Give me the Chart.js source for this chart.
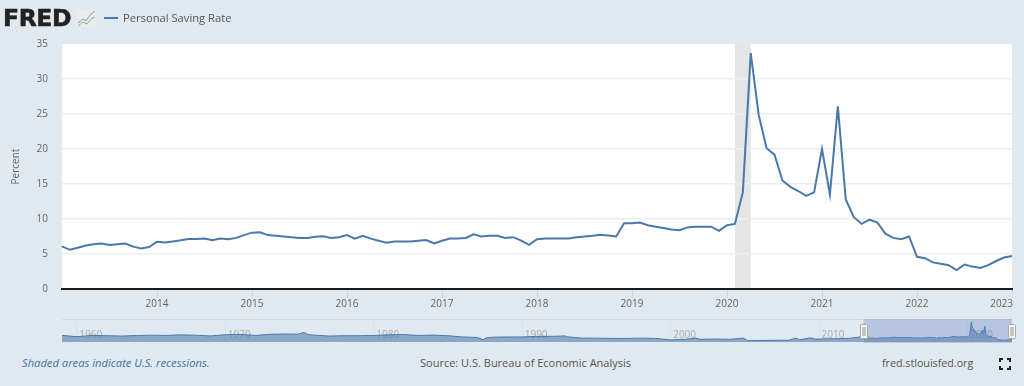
<!DOCTYPE html>
<html>
<head>
<meta charset="utf-8">
<title>Personal Saving Rate</title>
<script src="https://cdn.jsdelivr.net/npm/chart.js@4"></script>
<style>
  html, body { margin: 0; padding: 0; }
  body { width: 1024px; height: 386px; background: #e1e9f0; position: relative; overflow: hidden; font-family: "Open Sans", sans-serif; color: #555; }
  canvas { position: absolute; left: 0; }
  #chart { top: 0; }
  #navigator { top: 316px; }
  .txt { position: absolute; white-space: nowrap; font-size: 11.2px; line-height: 14px; }
  #logo { left: 3px; top: 3px; font: bold 23.5px/30px "DejaVu Sans", sans-serif; color: #222; letter-spacing: -0.4px; -webkit-text-stroke: 0.5px #222; }
  #icon { position: absolute; left: 77px; top: 10px; }
  #legendLine { position: absolute; left: 104px; top: 17px; width: 14px; height: 2px; background: #4a78ab; }
</style>
</head>
<body>
<canvas id="chart" width="1024" height="316"></canvas>
<canvas id="navigator" width="1024" height="30"></canvas>

<div class="txt" id="logo">FRED</div>
<svg id="icon" width="19" height="17">
  <rect width="19" height="17" fill="#e9ecea"/>
  <polyline points="1,13 6,9 9,11 13,5 18,1" fill="none" stroke="#7f9cc0" stroke-width="1"/>
  <polyline points="1,16 6,12 10,14 14,9 18,7" fill="none" stroke="#8fb27a" stroke-width="1"/>
</svg>
<div id="legendLine"></div>
<div class="txt" style="left:123px;top:11px">Personal Saving Rate</div>

<div class="txt" style="left:22px;top:356px;color:#4572a7;font-style:italic">Shaded areas indicate U.S. recessions.</div>
<div class="txt" style="left:420px;top:356px;font-size:11px">Source: U.S. Bureau of Economic Analysis</div>
<div class="txt" style="left:882px;top:356px;font-size:10.7px">fred.stlouisfed.org</div>
<svg style="position:absolute;left:999px;top:358px" width="12" height="12" fill="none" stroke="#222" stroke-width="2">
  <path d="M1 4V1H4M8 1H11V4M11 8V11H8M4 11H1V8"/>
</svg>

<script>
// values, one list per year
const y2013 = [6.1, 5.6, 5.9, 6.2, 6.4, 6.5, 6.3, 6.4, 6.5, 6.05, 5.8, 6.0];
const y2014 = [6.75, 6.65, 6.8, 6.95, 7.15, 7.15, 7.2, 6.95, 7.2, 7.1, 7.3, 7.7];
const y2015 = [8.05, 8.1, 7.7, 7.6, 7.5, 7.4, 7.3, 7.3, 7.45, 7.55, 7.3, 7.4];
const y2016 = [7.7, 7.2, 7.6, 7.2, 6.9, 6.6, 6.8, 6.8, 6.8, 6.9, 7.0, 6.5];
const y2017 = [6.9, 7.2, 7.2, 7.3, 7.8, 7.5, 7.6, 7.6, 7.3, 7.4, 6.9, 6.3];
const y2018 = [7.1, 7.2, 7.2, 7.2, 7.2, 7.4, 7.5, 7.6, 7.75, 7.65, 7.5, 9.4];
const y2019 = [9.4, 9.5, 9.1, 8.9, 8.7, 8.5, 8.4, 8.8, 8.9, 8.9, 8.9, 8.3];
const y2020 = [9.1, 9.3, 13.8, 33.7, 24.9, 20.1, 19.2, 15.5, 14.6, 14.0, 13.3, 13.8];
const y2021 = [20.0, 13.5, 26.1, 12.8, 10.3, 9.3, 9.9, 9.5, 7.9, 7.3, 7.1, 7.5];
const y2022 = [4.6, 4.4, 3.8, 3.6, 3.4, 2.7, 3.5, 3.2, 3.0, 3.4, 4.0, 4.5];
const y2023 = [4.7];
const savingRate = [].concat(y2013, y2014, y2015, y2016, y2017, y2018, y2019, y2020, y2021, y2022, y2023);

const monthNames = ['01', '02', '03', '04', '05', '06', '07', '08', '09', '10', '11', '12'];
const years = [2013, 2014, 2015, 2016, 2017, 2018, 2019, 2020, 2021, 2022, 2023];
const months = [];
years.forEach(yr => monthNames.forEach(m => months.push(yr + '-' + m)));
months.length = savingRate.length;

const recession = ['2020-02', '2020-04'];
const yTicks = [0, 5, 10, 15, 20, 25, 30, 35];

// navigator: the long history, rough readings before 2013
const navYears = [1959, 1960, 1961, 1962, 1963, 1964, 1965, 1966, 1967, 1968, 1969, 1970, 1971, 1972, 1973, 1974, 1974.9, 1975.3, 1975.6, 1976,
  1977, 1978, 1979, 1980, 1981, 1982, 1983, 1984, 1985, 1986, 1987, 1987.35, 1987.6, 1988, 1989, 1990, 1991, 1992, 1992.9, 1993, 1994, 1995, 1996, 1997, 1998, 1999,
  2000, 2001, 2001.7, 2002, 2003, 2004, 2004.9, 2005.2, 2006, 2007, 2008, 2008.4, 2008.7, 2009, 2009.4, 2009.7, 2010, 2011, 2012, 2012.9];
const navValues = [11.1, 8.9, 11, 10.6, 10, 10.8, 11.5, 11, 12, 11.4, 10.2, 12.2, 12.9, 11, 13, 13.5, 13.2, 16, 12.5, 11.5,
  10, 10.5, 10.5, 11, 12, 12.5, 11, 11.6, 10.5, 8.5, 7.5, 4, 7, 8, 8.5, 8.5, 9.5, 9.5, 10.2, 8.8, 6.5, 6.5, 6, 6, 6.5, 6,
  3.5, 4.5, 6.5, 4.5, 5, 4.5, 6.5, 2.5, 2.5, 2.8, 3, 6.5, 4, 5, 7, 5, 5, 5.5, 6, 9];
const navLabels = [1960, 1970, 1980, 1990, 2000, 2010, 2020];
const navWindow = [2013, 2023];

const navData = navYears.map((yr, i) => ({ x: yr, y: navValues[i] }));
savingRate.forEach((v, i) => navData.push({ x: 2013 + i / 12, y: v }));

Chart.defaults.font.family = '"Open Sans", sans-serif';
Chart.defaults.animation = false;

// white plot background and the recession band
const plotBack = {
  id: 'plotBack',
  beforeDraw(c) {
    const a = c.chartArea, x = c.scales.x;
    const ctx = c.ctx;
    ctx.save();
    ctx.fillStyle = '#fff';
    ctx.fillRect(a.left, a.top, a.right - a.left, a.bottom - a.top);
    const x0 = x.getPixelForValue(months.indexOf(recession[0]));
    const x1 = x.getPixelForValue(months.indexOf(recession[1]));
    ctx.fillStyle = '#e5e5e5';
    ctx.fillRect(x0, a.top, x1 - x0, a.bottom - a.top);
    ctx.restore();
  }
};

new Chart(document.querySelector('#chart').getContext('2d'), {
  type: 'line',
  plugins: [plotBack],
  data: {
    labels: months,
    datasets: [{
      label: 'Personal Saving Rate',
      data: savingRate,
      borderColor: '#4a78ab',
      borderWidth: 2,
      pointRadius: 0,
      tension: 0
    }]
  },
  options: {
    responsive: false,
    layout: { padding: { top: 44, right: 12, left: 0, bottom: 0 } },
    plugins: { legend: { display: false }, tooltip: { enabled: false } },
    scales: {
      x: {
        // the padded last label must not push the plot edge in
        afterFit: s => { s.height = 27; s.paddingRight = 0; },
        afterBuildTicks: s => { s.ticks = s.ticks.filter(t => months[t.value].endsWith('-01') && t.value > 0); },
        border: { color: '#1a1a1a', width: 2 },
        grid: { drawOnChartArea: false, color: '#ccd6eb', tickLength: 9 },
        ticks: {
          autoSkip: false,
          maxRotation: 0,
          color: '#666',
          font: { size: 10 },
          padding: 0,
          // last label sits flush with the plot edge, padded so the centring pulls it left
          callback: v => months[v].slice(0, 4) + (v === months.length - 1 ? '        ' : '')
        }
      },
      y: {
        min: 0,
        max: 35,
        afterFit: s => { s.width = 62; },
        afterBuildTicks: s => { s.ticks = yTicks.map(v => ({ value: v })); },
        border: { display: false },
        grid: { color: c => (c.tick.value === 35 ? 'transparent' : '#ededed'), lineWidth: 1.5, drawTicks: false },
        ticks: { color: '#666', font: { size: 10 }, padding: 14 },
        title: { display: true, text: 'Percent', color: '#666', font: { size: 10 }, padding: { top: 10, bottom: 0 } }
      }
    }
  }
});

// selected range and its two handles
const navMask = {
  id: 'navMask',
  beforeDraw(c) {
    const a = c.chartArea, ctx = c.ctx;
    ctx.save();
    ctx.fillStyle = '#d3dae2';
    ctx.fillRect(a.left, a.top - 1, a.right - a.left, 1);
    ctx.restore();
  },
  afterDraw(c) {
    const a = c.chartArea, x = c.scales.x, ctx = c.ctx;
    const x0 = x.getPixelForValue(navWindow[0]);
    const x1 = x.getPixelForValue(navWindow[1]);
    ctx.save();
    ctx.fillStyle = 'rgba(102,133,194,0.35)';
    ctx.fillRect(x0, a.top - 1, x1 - x0, a.bottom - a.top + 2);
    ctx.strokeStyle = '#c4c9cf';
    ctx.beginPath();
    ctx.moveTo(x0, a.bottom + 0.5);
    ctx.lineTo(x1, a.bottom + 0.5);
    ctx.stroke();
    [x0, x1].forEach(px => {
      ctx.fillStyle = '#f7f7f7';
      ctx.strokeStyle = '#a8a8a8';
      ctx.beginPath();
      ctx.roundRect(Math.round(px) - 3.5, 324.5 - 316, 7, 14, 1);
      ctx.fill();
      ctx.stroke();
      ctx.fillStyle = '#c4c4c4';
      ctx.fillRect(Math.round(px) - 2, 327 - 316, 4, 9);
    });
    ctx.restore();
  }
};

new Chart(document.querySelector('#navigator').getContext('2d'), {
  type: 'line',
  plugins: [navMask],
  data: {
    datasets: [{
      data: navData,
      borderColor: '#4a78ab',
      borderWidth: 1,
      backgroundColor: 'rgba(69,114,167,0.55)',
      fill: 'origin',
      pointRadius: 0,
      tension: 0
    }]
  },
  options: {
    responsive: false,
    layout: { padding: { top: 4, right: 12, left: 62, bottom: 4 } },
    plugins: { legend: { display: false }, tooltip: { enabled: false } },
    scales: {
      x: {
        type: 'linear',
        min: 1959,
        max: 2023,
        afterFit: s => { s.height = 0; s.paddingLeft = 0; s.paddingRight = 0; },
        afterBuildTicks: s => { s.ticks = navLabels.map(v => ({ value: v })); },
        border: { display: false },
        grid: { color: '#d9e1e8', drawTicks: false },
        ticks: { mirror: true, labelOffset: 14, padding: 1, color: '#aaa', font: { size: 10 }, maxRotation: 0, autoSkip: false, callback: v => String(v) }
      },
      y: { display: false, min: 0, max: 37 }
    }
  }
});
</script>
</body>
</html>
